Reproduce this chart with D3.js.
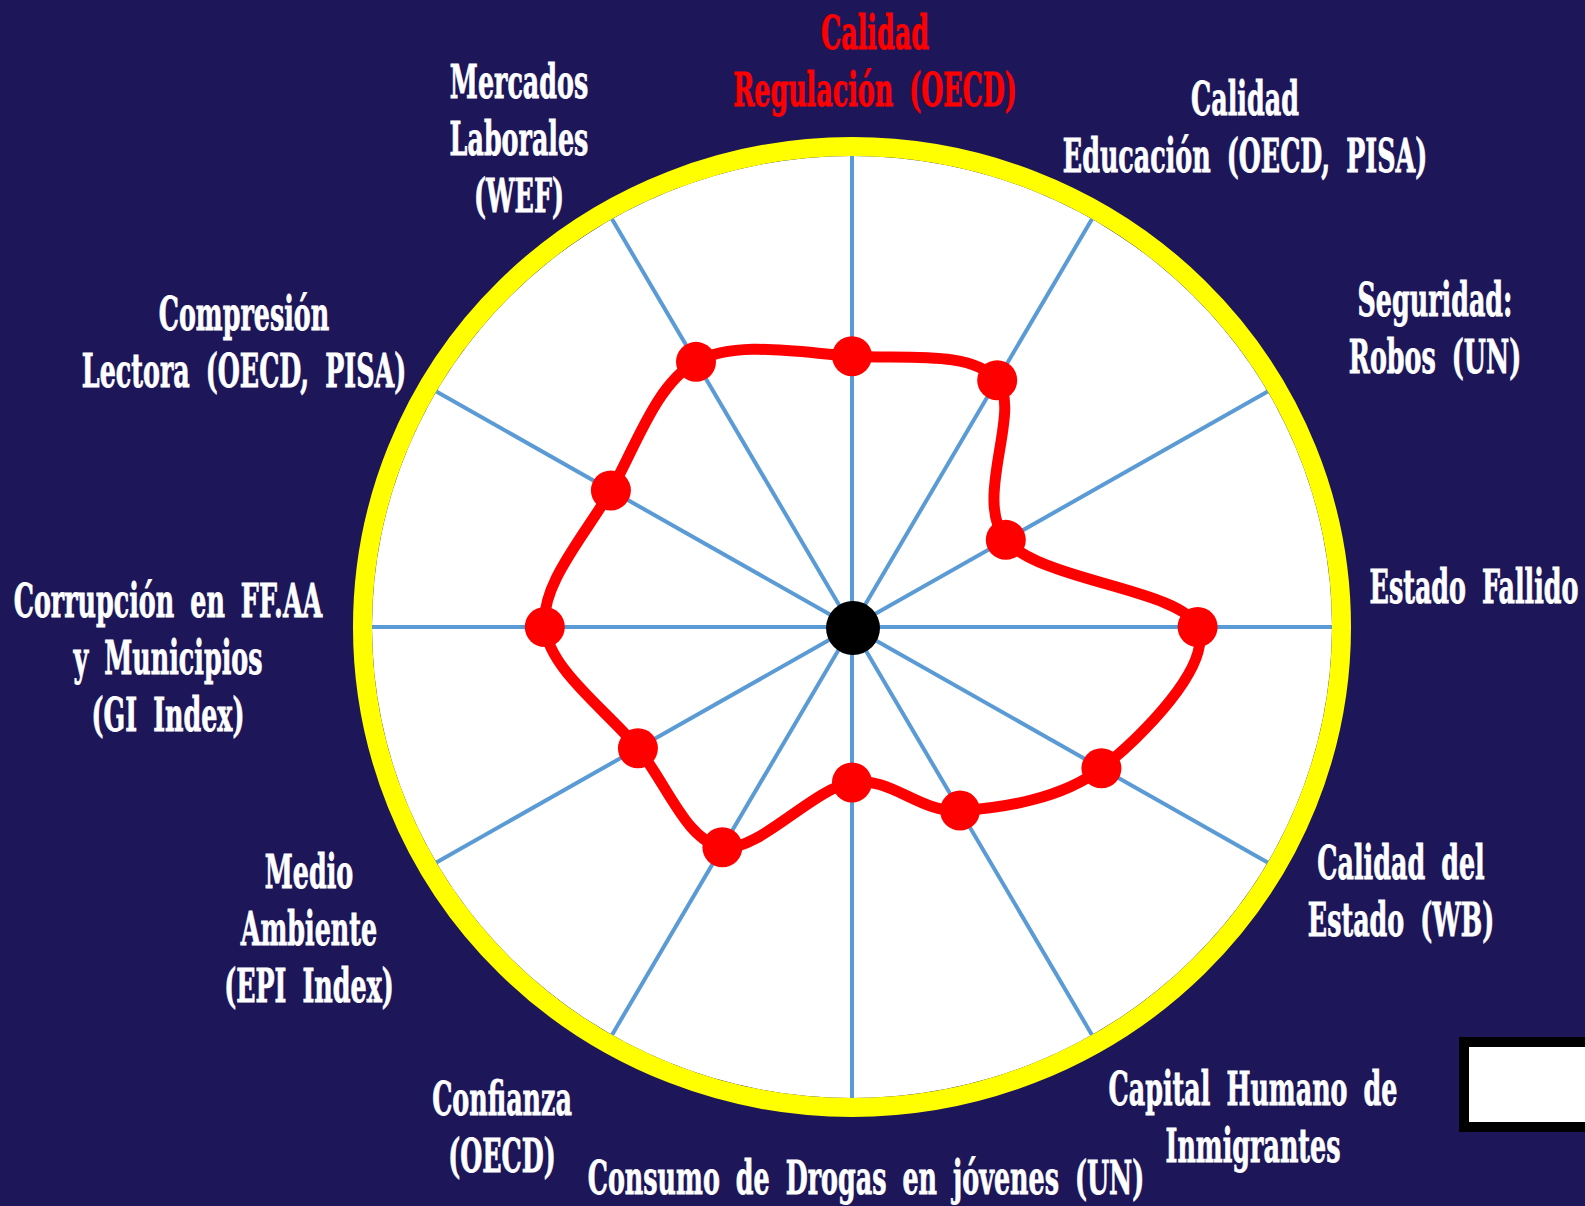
<!DOCTYPE html>
<html><head><meta charset="utf-8">
<script src="https://cdn.jsdelivr.net/npm/d3@7"></script>
<style>
html,body{margin:0;padding:0;background:#1d1659;}
svg{display:block;}
text{font-family:"DejaVu Serif Condensed","DejaVu Serif",serif;font-weight:bold;font-stretch:condensed;}
</style></head>
<body>
<svg id="chart" width="1585" height="1206"></svg>
<script>
// ---- data ----
const categories = [
  "Calidad Regulación (OECD)",
  "Calidad Educación (OECD, PISA)",
  "Seguridad: Robos (UN)",
  "Estado Fallido",
  "Calidad del Estado (WB)",
  "Capital Humano de Inmigrantes",
  "Consumo de Drogas en jóvenes (UN)",
  "Confianza (OECD)",
  "Medio Ambiente (EPI Index)",
  "Corrupción en FF.AA y Municipios (GI Index)",
  "Compresión Lectora (OECD, PISA)",
  "Mercados Laborales (WEF)"
];
const labelLines = [
  ["Calidad", "Regulación (OECD)"],
  ["Calidad", "Educación (OECD, PISA)"],
  ["Seguridad:", "Robos (UN)"],
  ["Estado Fallido"],
  ["Calidad del", "Estado (WB)"],
  ["Capital Humano de", "Inmigrantes"],
  ["Consumo de Drogas en jóvenes (UN)"],
  ["Confianza", "(OECD)"],
  ["Medio", "Ambiente", "(EPI Index)"],
  ["Corrupción en FF.AA", "y Municipios", "(GI Index)"],
  ["Compresión", "Lectora (OECD, PISA)"],
  ["Mercados", "Laborales", "(WEF)"]
];
const values = [5.75, 6.05, 3.7, 7.2, 6.0, 4.5, 3.3, 5.4, 5.15, 6.4, 5.8, 6.5];
const valueMax = 10;

// ---- layout / style ----
const cx = 852, cy = 627;
const rx = 480, ry = 471;       // inner edge of the ring
const ringW = 19;
const svg = d3.select("#chart");
svg.append("rect").attr("width",1585).attr("height",1206).attr("fill","#1d1659");

const angle = d3.scaleLinear().domain([0, categories.length]).range([0, 2*Math.PI]);
const rScale = d3.scaleLinear().domain([0, valueMax]).range([0, 1]);
const px = (i, f) => cx + Math.sin(angle(i)) * rx * f;
const py = (i, f) => cy - Math.cos(angle(i)) * ry * f;

// white plot area
svg.append("ellipse").attr("cx",cx).attr("cy",cy).attr("rx",rx).attr("ry",ry).attr("fill","#ffffff");

// spokes
svg.append("g").selectAll("line").data(categories).join("line")
  .attr("x1",cx).attr("y1",cy)
  .attr("x2",(d,i)=>px(i,1)).attr("y2",(d,i)=>py(i,1))
  .attr("stroke","#5b9bd5").attr("stroke-width",4);

// yellow ring
svg.append("ellipse").attr("cx",cx).attr("cy",cy)
  .attr("rx",rx+ringW/2).attr("ry",ry+ringW/2)
  .attr("fill","none").attr("stroke","#ffff00").attr("stroke-width",ringW);

// series curve
const pts = values.map((v,i)=>[px(i, rScale(v)), py(i, rScale(v))]);
const line = d3.line().curve(d3.curveCardinalClosed.tension(0));
svg.append("path").attr("d", line(pts))
  .attr("fill","none").attr("stroke","#ff0000").attr("stroke-width",11)
  .attr("stroke-linejoin","round");
svg.append("g").selectAll("circle").data(pts).join("circle")
  .attr("cx",d=>d[0]).attr("cy",d=>d[1]).attr("r",20).attr("fill","#ff0000");

// center dot
svg.append("circle").attr("cx",cx+1).attr("cy",cy+1).attr("r",27).attr("fill","#000000");

// labels
const labelPos = [
  [875, 49], [1245, 115], [1435, 316], [1474, 603], [1401, 879], [1253, 1105],
  [866, 1194], [502, 1115], [309, 888], [168, 617], [244, 330], [519, 98]
];
const lineH = 57;
const sx = 0.6;
const fs = 47;
labelLines.forEach((lines, i) => {
  const [x, y] = labelPos[i];
  const col = i===0 ? "#ff0000" : "#ffffff";
  const g = svg.append("g").attr("transform", `translate(${x},${y}) scale(${sx},1)`);
  g.selectAll("text").data(lines).join("text")
    .attr("x",0).attr("y",(d,j)=>j*lineH)
    .attr("text-anchor","middle")
    .attr("font-size",fs)
    .attr("word-spacing",12)
    .attr("fill", col)
    .attr("stroke", col).attr("stroke-width",0.8)
    .text(d=>d);
});

// small white box bottom-right
svg.append("rect").attr("x",1464).attr("y",1042).attr("width",200).attr("height",85)
  .attr("fill","#ffffff").attr("stroke","#000000").attr("stroke-width",10);
</script>
</body></html>
